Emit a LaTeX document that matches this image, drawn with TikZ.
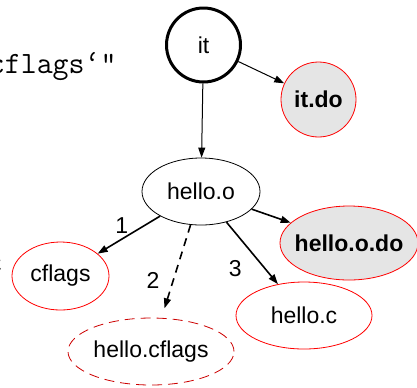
\documentclass[tikz,border=0pt]{standalone}
\usepackage{fontspec}
\setmainfont{Liberation Sans}
\usepackage{tikz}
\usetikzlibrary{arrows.meta}
\usetikzlibrary{shapes.geometric}
\usepackage{xcolor}
\definecolor{dr}{RGB}{204, 0, 0}
\definecolor{lg}{RGB}{229, 229, 229}

\begin{document}
\begin{tikzpicture}[x=0.5pt, y=-0.5pt, font=\fontsize{11.5}{13}\selectfont,
        >={Triangle[length=5pt, width=3.5pt]},
        cmdtext/.style={anchor=base east, inner sep=0pt, font=\ttfamily\fontsize{15.5}{17}\selectfont},
        oval/.style={ellipse, draw, inner sep=0pt, inner xsep=-8pt},
        target/.style={draw=red, fill=lg, font=\fontsize{11.5}{13}\selectfont\bfseries},
        source/.style={draw=red}]
        \useasboundingbox (0,0) rectangle (417,387);
        \node[cmdtext] (cmd) at (117,73) {cflags\textquoteleft"};
        \node[cmdtext] (cut) at (3,272) {c};
        \node[circle, draw, line width=1.5pt, minimum size=37pt, inner sep=0pt] (it) at (203.5,45) {it};
        \node[circle, target, minimum size=37.5pt, inner sep=0pt] (itdo) at (318.5,99.5) {it.do};
        \node[oval, minimum width=59pt, minimum height=33.5pt] (helloo) at (201,191.5) {hello.o};
        \node[oval, target, minimum width=69pt, minimum height=37pt] (hellodo) at (349,243) {hello.o.do};
        \node[oval, source, minimum width=68pt, minimum height=33.5pt] (helloc) at (304,315.5) {hello.c};
        \node[oval, source, minimum width=48.5pt, minimum height=34pt] (cflags) at (60.5,276) {cflags};
        \node[oval, draw=dr, dash pattern=on 5pt off 3pt, minimum width=83pt, minimum height=33.5pt] (hellocflags) at (151,351.5) {hello.cflags};
        \draw[->, line width=0.5pt] (it) -- (itdo);
        \draw[->, line width=0.5pt] (it) -- (helloo);
        \draw[->, line width=0.8pt] (helloo) -- (hellodo);
        \draw[->, line width=0.8pt] (helloo) -- (cflags) node[midway, xshift=-3.5pt, yshift=4.5pt] {1};
        \draw[->, line width=0.8pt, dash pattern=on 4pt off 3pt, shorten >=5pt] (helloo) -- (hellocflags) node[midway, xshift=-11.5pt, yshift=-4.5pt] {2};
        \draw[->, line width=0.8pt] (helloo) -- (helloc) node[midway, xshift=-8.5pt, yshift=-7.5pt] {3};
    \end{tikzpicture}
\end{document}
